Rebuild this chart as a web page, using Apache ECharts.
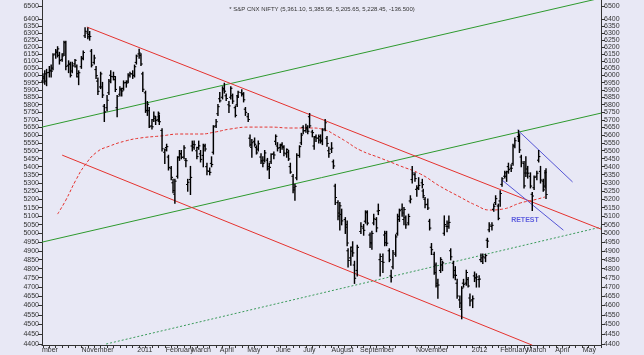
<!DOCTYPE html>
<html><head><meta charset="utf-8">
<script src="https://cdn.jsdelivr.net/npm/echarts@6.0.0/dist/echarts.min.js"></script>
<style>html,body{margin:0;padding:0;background:#E8E8F5;}#c{width:644px;height:355px;}</style>
</head><body><div id="c"></div>
<script>
const chartTitle = '* S&P CNX NIFTY (5,361.10, 5,385.95, 5,205.65, 5,228.45, -136.500)';

const barDates = [
'2010-09-20','2010-09-22','2010-09-24','2010-09-27','2010-09-29',
'2010-10-01','2010-10-04','2010-10-06','2010-10-08','2010-10-11','2010-10-13','2010-10-15','2010-10-18','2010-10-20','2010-10-22','2010-10-25','2010-10-27','2010-10-29',
'2010-11-01','2010-11-03','2010-11-05','2010-11-08','2010-11-10','2010-11-12','2010-11-15','2010-11-17','2010-11-19','2010-11-22','2010-11-24','2010-11-26','2010-11-29',
'2010-12-01','2010-12-03','2010-12-06','2010-12-08','2010-12-10','2010-12-13','2010-12-15','2010-12-17','2010-12-20','2010-12-22','2010-12-24','2010-12-27','2010-12-29','2010-12-31',
'2011-01-03','2011-01-05','2011-01-07','2011-01-10','2011-01-12','2011-01-14','2011-01-17','2011-01-19','2011-01-21','2011-01-24','2011-01-25','2011-01-28','2011-01-31',
'2011-02-02','2011-02-04','2011-02-07','2011-02-09','2011-02-11','2011-02-14','2011-02-16','2011-02-18','2011-02-21','2011-02-23','2011-02-25','2011-02-28',
'2011-03-02','2011-03-04','2011-03-07','2011-03-09','2011-03-11','2011-03-14','2011-03-16','2011-03-18','2011-03-21','2011-03-23','2011-03-25','2011-03-28','2011-03-30',
'2011-04-01','2011-04-04','2011-04-06','2011-04-08','2011-04-11','2011-04-13','2011-04-15','2011-04-18','2011-04-20','2011-04-21','2011-04-25','2011-04-27','2011-04-29',
'2011-05-02','2011-05-04','2011-05-06','2011-05-09','2011-05-11','2011-05-13','2011-05-16','2011-05-18','2011-05-20','2011-05-23','2011-05-25','2011-05-27','2011-05-30',
'2011-06-01','2011-06-03','2011-06-06','2011-06-08','2011-06-10','2011-06-13','2011-06-15','2011-06-17','2011-06-20','2011-06-22','2011-06-24','2011-06-27','2011-06-29',
'2011-07-01','2011-07-04','2011-07-06','2011-07-08','2011-07-11','2011-07-13','2011-07-15','2011-07-18','2011-07-20','2011-07-22','2011-07-25','2011-07-27','2011-07-29',
'2011-08-01','2011-08-03','2011-08-05','2011-08-08','2011-08-10','2011-08-12','2011-08-16','2011-08-18','2011-08-19','2011-08-22','2011-08-24','2011-08-26','2011-08-29',
'2011-09-02','2011-09-05','2011-09-07','2011-09-09','2011-09-12','2011-09-14','2011-09-16','2011-09-19','2011-09-21','2011-09-23','2011-09-26','2011-09-28','2011-09-30',
'2011-10-03','2011-10-05','2011-10-07','2011-10-10','2011-10-12','2011-10-14','2011-10-17','2011-10-19','2011-10-21','2011-10-24','2011-10-26','2011-10-28','2011-10-31',
'2011-11-02','2011-11-04','2011-11-08','2011-11-09','2011-11-11','2011-11-14','2011-11-16','2011-11-18','2011-11-21','2011-11-23','2011-11-25','2011-11-28','2011-11-30',
'2011-12-02','2011-12-05','2011-12-07','2011-12-09','2011-12-12','2011-12-14','2011-12-16','2011-12-19','2011-12-21','2011-12-23','2011-12-26','2011-12-28','2011-12-30',
'2012-01-02','2012-01-04','2012-01-06','2012-01-09','2012-01-11','2012-01-13','2012-01-16','2012-01-18','2012-01-20','2012-01-23','2012-01-25','2012-01-27','2012-01-30',
'2012-02-01','2012-02-03','2012-02-06','2012-02-08','2012-02-10','2012-02-13','2012-02-15','2012-02-17','2012-02-21','2012-02-22','2012-02-24','2012-02-27','2012-02-29',
'2012-03-02','2012-03-05','2012-03-07','2012-03-09','2012-03-12','2012-03-14','2012-03-16','2012-03-19','2012-03-21','2012-03-22'];
const opens = [
5960,5990,5960,6020,6030,
6050,6150,6170,6140,6110,6150,6230,6070,6080,6030,6080,6060,5990,
6060,6120,6280,6300,6290,6170,6090,6040,5960,5920,5920,5790,5780,
5880,6000,5990,5970,5780,5870,5900,5910,5950,5960,6000,6010,6000,6090,
6150,6140,6010,5880,5760,5760,5660,5700,5710,5700,5720,5630,5490,
5520,5460,5390,5300,5230,5340,5460,5480,5460,5440,5290,5320,
5530,5540,5500,5520,5480,5470,5530,5400,5370,5420,5490,5660,5740,
5840,5850,5900,5860,5800,5850,5860,5780,5800,5860,5880,5870,5770,
5720,5580,5520,5560,5520,5510,5460,5430,5440,5440,5400,5430,5480,
5560,5530,5520,5540,5520,5480,5490,5400,5340,5270,5330,5470,5550,
5650,5630,5640,5720,5620,5530,5590,5580,5590,5560,5640,5580,5500,
5510,5430,5280,5180,5100,5110,5080,5050,4900,4860,4920,4820,4790,
5010,5030,5070,5120,4990,4940,5060,5080,5130,4850,4840,4990,5000,
4900,4760,4810,4880,5000,5080,5140,5080,5090,5060,5190,5320,5350,
5260,5270,5300,5250,5200,5170,5070,4920,4880,4820,4720,4790,4820,
5000,5040,5060,4900,4830,4790,4720,4630,4580,4720,4720,4740,4640,
4630,4760,4750,4740,4850,4840,4860,4960,5020,5040,5140,5180,5160,
5190,5290,5340,5340,5400,5390,5420,5530,5590,5580,5460,5420,5360,
5360,5340,5230,5270,5340,5440,5370,5310,5280,5361.10];
const highs = [
6010,6030,6040,6060,6070,
6150,6180,6200,6160,6150,6240,6240,6100,6090,6090,6110,6070,6030,
6130,6170,6338,6335,6310,6180,6140,6060,5980,6020,5950,5800,5860,
5970,6030,6020,5990,5860,5920,5910,5960,5960,6010,6020,6030,6070,6140,
6181,6150,6020,5890,5820,5780,5700,5750,5720,5750,5730,5640,5510,
5540,5470,5400,5320,5320,5460,5500,5500,5530,5450,5320,5400,
5560,5560,5520,5560,5500,5540,5540,5420,5390,5460,5660,5700,5800,
5880,5920,5944,5870,5820,5920,5870,5790,5860,5890,5900,5880,5780,
5740,5600,5570,5580,5530,5560,5480,5460,5500,5450,5420,5480,5490,
5600,5550,5540,5550,5530,5510,5500,5420,5350,5290,5480,5530,5610,
5660,5670,5660,5740,5630,5590,5600,5600,5600,5640,5700,5590,5520,
5550,5440,5290,5190,5180,5140,5090,5070,4910,4920,4950,4840,4930,
5060,5050,5130,5130,5000,5010,5110,5090,5170,4880,4880,5010,5010,
4910,4790,4900,4990,5110,5140,5170,5150,5100,5110,5220,5399,5360,
5280,5330,5320,5260,5210,5200,5080,4940,4890,4830,4740,4860,4840,
5100,5070,5100,4910,4840,4810,4740,4650,4700,4740,4790,4750,4660,
4650,4780,4770,4760,4880,4880,4880,4970,5060,5060,5170,5220,5170,
5250,5330,5370,5370,5420,5410,5540,5580,5630,5600,5470,5430,5460,
5400,5360,5240,5340,5370,5500,5400,5320,5375,5385.95];
const lows = [
5950,5940,5930,5990,5990,
6040,6120,6130,6080,6100,6140,6040,6020,5990,6020,6060,5990,5937,
6050,6110,6270,6260,6250,6060,6080,5980,5870,5910,5850,5690,5760,
5870,5950,5970,5890,5721,5860,5860,5900,5920,5950,5990,5980,5990,6080,
6120,6070,5890,5750,5730,5650,5640,5690,5670,5690,5670,5500,5420,
5500,5380,5320,5240,5177,5330,5440,5450,5450,5400,5250,5230,
5500,5510,5450,5510,5430,5400,5500,5350,5350,5400,5480,5650,5730,
5820,5840,5880,5830,5750,5840,5810,5720,5790,5850,5860,5820,5730,
5690,5530,5460,5530,5480,5500,5420,5400,5430,5380,5328,5420,5450,
5540,5500,5490,5510,5470,5460,5440,5360,5240,5195,5320,5460,5540,
5610,5620,5610,5650,5590,5510,5560,5550,5550,5540,5630,5530,5460,
5490,5390,5170,5080,5020,5050,5000,4930,4810,4820,4870,4720,4760,
5000,4990,5060,5050,4920,4910,5050,5010,5110,4760,4780,4930,4930,
4840,4728,4800,4870,4990,5070,5100,5050,5030,5050,5180,5300,5310,
5220,5260,5270,5210,5150,5140,5020,4880,4770,4700,4640,4780,4790,
4990,5010,5030,4850,4750,4740,4640,4590,4531,4700,4710,4700,4600,
4590,4730,4700,4700,4840,4830,4840,4920,5010,5020,5130,5170,5080,
5160,5280,5330,5310,5360,5370,5410,5520,5560,5490,5400,5270,5340,
5330,5270,5135,5260,5320,5430,5300,5250,5270,5205.65];
const closes = [
5980,6010,6018,6035,6029,
6143,6159,6186,6103,6135,6233,6062,6075,6000,6066,6105,6012,6018,
6117,6160,6312,6273,6275,6071,6121,5998,5890,6010,5865,5752,5830,
5960,5992,5992,5903,5857,5907,5892,5948,5947,6000,6011,5998,6060,6135,
6157,6079,5904,5762,5803,5654,5654,5724,5696,5743,5687,5512,5505,
5526,5395,5333,5253,5310,5456,5481,5458,5518,5437,5303,5333,
5522,5538,5463,5531,5445,5531,5511,5373,5364,5413,5654,5687,5787,
5826,5910,5891,5842,5792,5911,5824,5729,5851,5884,5874,5833,5749,
5702,5537,5551,5541,5486,5544,5438,5420,5486,5386,5395,5476,5473,
5592,5516,5532,5526,5485,5508,5448,5366,5257,5278,5471,5526,5600,
5627,5650,5625,5660,5616,5585,5581,5568,5567,5633,5680,5546,5482,
5516,5404,5211,5118,5161,5072,5035,4944,4845,4898,4888,4747,4919,
5040,5017,5125,5059,4947,4999,5084,5031,5133,4868,4835,4946,4943,
4849,4751,4888,4979,5099,5132,5118,5139,5049,5098,5201,5360,5326,
5265,5284,5289,5221,5168,5148,5030,4906,4778,4706,4710,4851,4832,
5050,5039,5063,4866,4764,4763,4651,4613,4693,4714,4779,4705,4624,
4636,4749,4754,4742,4860,4866,4873,4955,5048,5046,5158,5204,5087,
5235,5325,5361,5368,5381,5390,5531,5564,5607,5505,5429,5281,5385,
5359,5280,5220,5333,5359,5463,5317,5257,5365,5228.45];

// red dashed moving average
const maDates  = ['2010-10-06','2010-10-15','2010-10-26','2010-11-05','2010-11-18','2010-12-02','2010-12-19','2011-01-04','2011-01-26','2011-02-17','2011-03-11','2011-03-27','2011-04-12','2011-05-04','2011-05-26','2011-06-17','2011-07-09','2011-07-25','2011-08-05','2011-08-16','2011-09-01','2011-09-23','2011-10-15','2011-11-06','2011-11-27','2011-12-19','2012-01-05','2012-01-21','2012-02-04','2012-02-23','2012-03-08','2012-03-21'];
const maValues = [5112,5195,5317,5410,5492,5530,5562,5581,5594,5607,5607,5620,5639,5652,5652,5646,5646,5633,5600,5562,5504,5454,5404,5354,5280,5214,5166,5136,5142,5178,5195,5214];

// trend lines: [start date, start price, end date, end price]
const redUpper    = ['2010-11-07', 6344, '2012-05-21', 5024];
const redLower    = ['2010-10-11', 5472, '2012-03-07', 4394];
const greenUpper  = ['2010-09-19', 5652, '2012-05-21', 6560];
const greenMiddle = ['2010-09-19', 4949, '2012-05-21', 5744];
const greenDotted = ['2010-11-28', 4400, '2012-05-21', 5036];
const blueUpper   = ['2012-02-20', 5633, '2012-04-20', 5305];
const blueLower   = ['2012-02-03', 5317, '2012-04-10', 5018];
const retestNote  = ['2012-02-28', 5077, 'RETEST'];

const yTickValues = [4400,4450,4500,4550,4600,4650,4700,4750,4800,4850,4900,4950,5000,5050,5100,5150,5200,5250,5300,5350,5400,5450,5500,5550,5600,5650,5700,5750,5800,5850,5900,5950,6000,6050,6100,6150,6200,6250,6300,6350,6400,6450,6500];
const xLabelDates = ['2010-09-19','2010-11-01','2011-01-01','2011-02-01','2011-03-01','2011-04-01','2011-05-01','2011-06-01','2011-07-01','2011-08-01','2011-09-01','2011-11-01','2012-01-01','2012-02-01','2012-03-01','2012-04-01','2012-05-01'];
const xLabelTexts = ['mber','November','2011','February','March','April','May','June','July','August','September','November','2012','February','March','April','May'];
const xMin = '2010-09-19', xMax = '2012-05-21';

function ts(s){const p=s.split('-').map(Number);return Date.UTC(p[0],p[1]-1,p[2]);}
const labelMap = {};
xLabelDates.forEach((d,i)=>{labelMap[ts(d)] = xLabelTexts[i];});
const weekTicks = [];
for (let t = ts('2010-09-20'); t <= ts(xMax); t += 7*86400000) weekTicks.push(t);

const ohlc = barDates.map((d,i)=>[ts(d), opens[i], highs[i], lows[i], closes[i]]);
function seg(a, color, type){
  return {type:'line', data:[[ts(a[0]),a[1]],[ts(a[2]),a[3]]], symbol:'none', silent:true,
    lineStyle:{color:color, width:1, type:type||'solid'}, z:3, clip:true};
}
const yMin = 4395, yMax = 6545;
const axisCol = '#333';
function yAxisDef(pos){
  return {type:'log', logBase:10, position:pos, min:yMin, max:yMax, splitLine:{show:false},
  axisLine:{show:true, lineStyle:{color:axisCol, width:1}},
  axisTick:{show:true, customValues:yTickValues, length:4, lineStyle:{color:axisCol}},
  axisLabel:{customValues:yTickValues, showMinLabel:true, showMaxLabel:true, fontSize:7, color:'#333', fontFamily:'Liberation Sans', margin:3, formatter:v=>String(Math.round(v))}};
}

const chart = echarts.init(document.getElementById('c'), null, {renderer:'canvas'});
chart.setOption({
  animation:false,
  backgroundColor:'#E8E8F5',
  title:{text:chartTitle, left:'center', top:1, textStyle:{fontSize:6, fontWeight:'normal', color:'#333', fontFamily:'Liberation Sans'}},
  grid:{left:42, right:43, top:0, bottom:10, containLabel:false},
  xAxis:{type:'value', min:ts(xMin), max:ts(xMax), splitLine:{show:false},
    axisLine:{lineStyle:{color:axisCol}},
    axisTick:{customValues:weekTicks, length:3, lineStyle:{color:axisCol}},
    axisLabel:{customValues:xLabelDates.map(ts), formatter:v=>labelMap[v]||'', align:'left', fontSize:7, color:'#333', fontFamily:'Liberation Sans', margin:2, hideOverlap:false}},
  yAxis:[yAxisDef('left'), yAxisDef('right')],
  series:[
    seg(greenUpper,'#2E9A2E'), seg(greenMiddle,'#2E9A2E'), seg(greenDotted,'#3A9A5A',[2,2]),
    seg(redUpper,'#E5322E'), seg(redLower,'#E5322E'),
    seg(blueUpper,'#5555D5'), seg(blueLower,'#5555D5'),
    {type:'line', data:maDates.map((d,i)=>[ts(d), maValues[i]]), symbol:'none', smooth:true, silent:true,
      lineStyle:{color:'#E5322E', width:1, type:[3,2]}, z:3},
    {type:'custom', data:ohlc, encode:{x:0, y:[1,2,3,4]}, z:5, silent:true,
      renderItem:function(params, api){
        const x = api.value(0);
        const o = api.coord([x, api.value(1)]), h = api.coord([x, api.value(2)]);
        const l = api.coord([x, api.value(3)]), c = api.coord([x, api.value(4)]);
        return {type:'group', children:[
          {type:'line', shape:{x1:h[0],y1:h[1]-0.7,x2:l[0],y2:l[1]+0.7}, style:{stroke:'#000', lineWidth:1.45}},
          {type:'line', shape:{x1:o[0]-1.7,y1:o[1],x2:o[0],y2:o[1]}, style:{stroke:'#000', lineWidth:1.1}},
          {type:'line', shape:{x1:c[0],y1:c[1],x2:c[0]+1.7,y2:c[1]}, style:{stroke:'#000', lineWidth:1.1}}
        ]};
      }},
    {type:'scatter', data:[[ts(retestNote[0]), retestNote[1]]], symbolSize:0, silent:true, z:6,
      label:{show:true, position:'inside', formatter:retestNote[2], color:'#3A3AD8', fontWeight:'bold', fontSize:7, fontFamily:'Liberation Sans'}}
  ]
});
</script></body></html>
